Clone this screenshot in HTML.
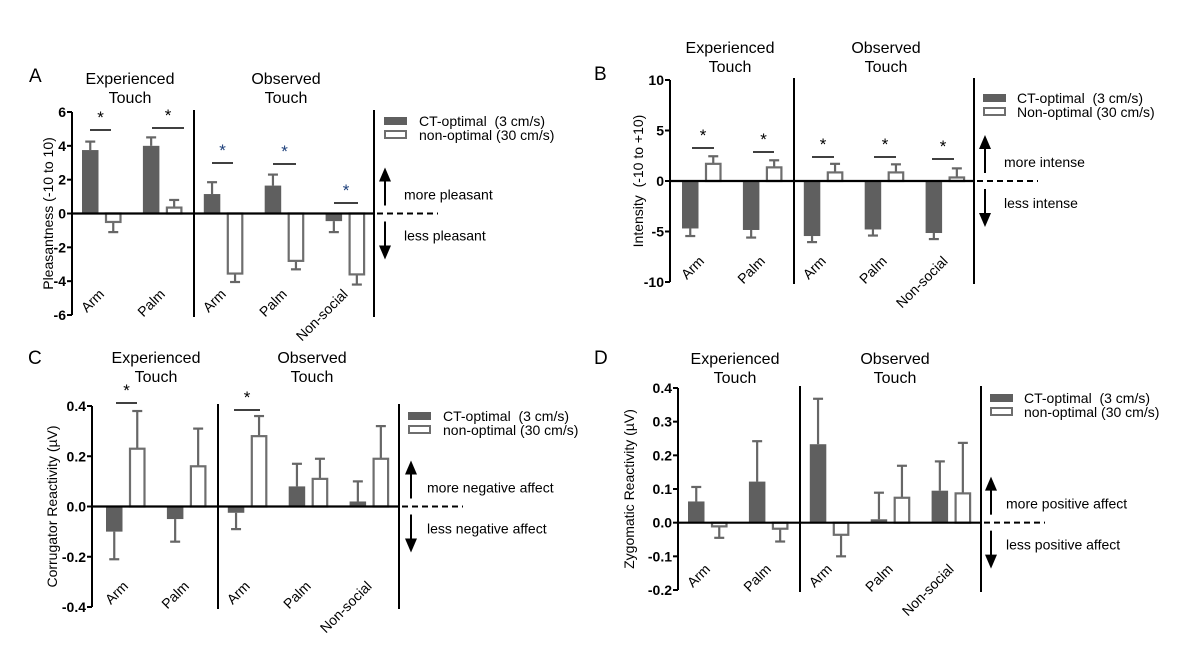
<!DOCTYPE html>
<html><head><meta charset="utf-8"><style>
html,body{margin:0;padding:0;background:#fff;}
svg{display:block;font-family:"Liberation Sans",Arial,sans-serif;}
</style></head><body>
<svg id="fig" width="1200" height="672" viewBox="0 0 1200 672"></svg>
<script>
const categories = ["Arm","Palm","Arm","Palm","Non-social"];
const aFilled = [3.75,4.0,1.15,1.65,-0.45];
const aFilledErr = [0.5,0.5,0.7,0.65,0.65];
const aOpen = [-0.5,0.35,-3.55,-2.8,-3.6];
const aOpenErr = [0.6,0.45,0.5,0.5,0.6];
const aTicks = [6,4,2,0,-2,-4,-6];
const aTickLabels = ["6","4","2","0","-2","-4","-6"];
const bFilled = [-4.7,-4.85,-5.45,-4.8,-5.15];
const bFilledErr = [0.75,0.75,0.6,0.6,0.6];
const bOpen = [1.7,1.35,0.85,0.85,0.35];
const bOpenErr = [0.75,0.7,0.85,0.8,0.9];
const bTicks = [10,5,0,-5,-10];
const bTickLabels = ["10","5","0","-5","-10"];
const cFilled = [-0.1,-0.05,-0.025,0.08,0.02];
const cFilledErr = [0.11,0.09,0.065,0.09,0.08];
const cOpen = [0.23,0.16,0.28,0.11,0.19];
const cOpenErr = [0.15,0.15,0.08,0.08,0.13];
const cTicks = [0.4,0.2,0,-0.2,-0.4];
const cTickLabels = ["0.4","0.2","0.0","-0.2","-0.4"];
const dFilled = [0.063,0.122,0.233,0.01,0.095];
const dFilledErr = [0.043,0.12,0.135,0.079,0.087];
const dOpen = [-0.011,-0.018,-0.036,0.074,0.087];
const dOpenErr = [0.034,0.038,0.064,0.095,0.15];
const dTicks = [0.4,0.3,0.2,0.1,0,-0.1,-0.2];
const dTickLabels = ["0.4","0.3","0.2","0.1","0.0","-0.1","-0.2"];

const NS="http://www.w3.org/2000/svg";
const svg=document.getElementById('fig');
function mk(tag,attrs,parent,text){
  const e=document.createElementNS(NS,tag);
  for(const k in attrs)e.setAttribute(k,attrs[k]);
  if(text!==undefined)e.textContent=text;
  (parent||svg).appendChild(e);return e;
}
const panels=[
 {id:'a',letter:'A',lx:29,ly:82,axisX:72,x0:82,yTop:112,yBot:315,vMax:6,vMin:-6,
  filled:aFilled,fErr:aFilledErr,open:aOpen,oErr:aOpenErr,ticks:aTicks,tl:aTickLabels,
  div:194,right:374,t1:130,t2:286,ty:84,ytitle:'Pleasantness (-10 to 10)',ytx:48,
  leg:{x:384,y:117,tx:419,l1:'CT-optimal\u00a0\u00a0(3 cm/s)',l2:'non-optimal (30 cm/s)'},
  arrow:{x:385,up:'more pleasant',dn:'less pleasant',tx:404},
  sig:[[90,111,130,'#000'],[152,184,128,'#000'],[212,233,163,'#1d3f7a'],[273,296,164,'#1d3f7a'],[334,358,203,'#1d3f7a']]},
 {id:'b',letter:'B',lx:594,ly:80,axisX:670,x0:682,yTop:80,yBot:282,vMax:10,vMin:-10,
  filled:bFilled,fErr:bFilledErr,open:bOpen,oErr:bOpenErr,ticks:bTicks,tl:bTickLabels,
  div:794,right:974,t1:730,t2:886,ty:53,ytitle:'Intensity\u00a0\u00a0(-10 to +10)',ytx:638,
  leg:{x:983,y:94,tx:1017,l1:'CT-optimal\u00a0\u00a0(3 cm/s)',l2:'Non-optimal (30 cm/s)'},
  arrow:{x:985,up:'more intense',dn:'less intense',tx:1004},
  sig:[[692,714,148,'#000'],[753,774,152,'#000'],[812,834,157,'#000'],[874,896,157,'#000'],[932,954,159,'#000']]},
 {id:'c',letter:'C',lx:28,ly:364,axisX:92,x0:106,yTop:406,yBot:607,vMax:0.4,vMin:-0.4,
  filled:cFilled,fErr:cFilledErr,open:cOpen,oErr:cOpenErr,ticks:cTicks,tl:cTickLabels,
  div:218,right:399,t1:156,t2:312,ty:363,ytitle:'Corrugator Reactivity (\u00b5V)',ytx:52,
  leg:{x:408,y:412,tx:443,l1:'CT-optimal\u00a0\u00a0(3 cm/s)',l2:'non-optimal (30 cm/s)'},
  arrow:{x:411,up:'more negative affect',dn:'less negative affect',tx:427},
  sig:[[116,137,403,'#000'],[234,260,410,'#000']]},
 {id:'d',letter:'D',lx:594,ly:364,axisX:678,x0:688,yTop:388,yBot:590,vMax:0.4,vMin:-0.2,
  filled:dFilled,fErr:dFilledErr,open:dOpen,oErr:dOpenErr,ticks:dTicks,tl:dTickLabels,
  div:800,right:981,t1:735,t2:895,ty:364,ytitle:'Zygomatic Reactivity (\u00b5V)',ytx:629,
  leg:{x:990,y:394,tx:1024,l1:'CT-optimal\u00a0\u00a0(3 cm/s)',l2:'non-optimal (30 cm/s)'},
  arrow:{x:991,up:'more positive affect',dn:'less positive affect',tx:1006},
  sig:[]}
];
const PITCH=60.9,BW=16.5,OFF=23;
panels.forEach(p=>{
  const g=mk('g',{});
  
  
  const y=v=>p.yTop+(p.vMax-v)/(p.vMax-p.vMin)*(p.yBot-p.yTop);
  const y0=y(0);
  const L=mk('text',{x:p.lx,y:p.ly,'font-size':19},g,p.letter);
  
  
  [[p.t1,'Experienced'],[p.t2,'Observed']].forEach(([cx,w])=>{
    const t=mk('text',{x:cx,y:p.ty,'font-size':16,'text-anchor':'middle'},g);
    
    
    mk('tspan',{x:cx,dy:0},t,w);mk('tspan',{x:cx,dy:19},t,'Touch');
  });
  const ax=mk('line',{x1:p.axisX,y1:p.yTop,x2:p.axisX,y2:p.yBot,stroke:'#000','stroke-width':2},g);
  
  
  p.ticks.forEach((t,i)=>{
    mk('line',{x1:p.axisX-5,y1:y(t),x2:p.axisX,y2:y(t),stroke:'#000','stroke-width':2},g);
    const tx=mk('text',{x:p.axisX-6,y:y(t)+5,'font-size':14,'font-weight':'bold','text-anchor':'end'},g,p.tl[i]);
    
    
  });
  const yt=mk('text',{x:p.ytx,y:(p.yTop+p.yBot)/2,'font-size':14,'text-anchor':'middle',transform:`rotate(-90 ${p.ytx} ${(p.yTop+p.yBot)/2})`,dy:5},g,p.ytitle);
  
  
  [p.div,p.right].forEach(x=>{
    const l=mk('line',{x1:x,y1:p.yTop-2,x2:x,y2:p.yBot+2,stroke:'#000','stroke-width':2},g);
    
    
  });
  categories.forEach((c,i)=>{
    const xf=p.x0+i*PITCH, xo=xf+OFF;
    [[xf,p.filled[i],p.fErr[i],true],[xo,p.open[i],p.oErr[i],false]].forEach(([x,v,e,fill])=>{
      const ytop=Math.min(y(v),y0),h=Math.abs(y(v)-y0);
      const ee=v>=0?y(v+e):y(v-e);
      const eb=mk('line',{x1:x+BW/2,y1:y(v),x2:x+BW/2,y2:ee,stroke:'#666','stroke-width':2.2},g);
      
      
      mk('line',{x1:x+BW/2-5,y1:ee,x2:x+BW/2+5,y2:ee,stroke:'#666','stroke-width':2.2},g);
      const r=fill?mk('rect',{x:x,y:ytop,width:BW,height:h,fill:'#5f5f5f'},g)
                  :mk('rect',{x:x+1,y:ytop,width:BW-2,height:h,fill:'#fff',stroke:'#6e6e6e','stroke-width':2.2},g);
      
      
    });
    const lx=xf+23,ly=p.yBot-20;
    const ct=mk('text',{x:lx,y:ly,'font-size':14,'text-anchor':'end',transform:`rotate(-45 ${lx} ${ly})`},g,c);
    
    
  });
  const z=mk('line',{x1:p.axisX,y1:y0,x2:p.right,y2:y0,stroke:'#000','stroke-width':2.2},g);
  
  
  const dz=mk('line',{x1:p.right+3,y1:y0,x2:p.right+64,y2:y0,stroke:'#000','stroke-width':2,'stroke-dasharray':'6,4'},g);
  
  
  p.sig.forEach(s=>{
    const sl=mk('line',{x1:s[0],y1:s[2],x2:s[1],y2:s[2],stroke:'#000','stroke-width':1.5},g);
    
    
    const st=mk('text',{x:(s[0]+s[1])/2,y:s[2]-7,'font-size':17,'text-anchor':'middle',fill:s[3]},g,'*');
    
    
  });
  const lg=mk('g',{},g);
  
  
  mk('rect',{x:p.leg.x,y:p.leg.y,width:23,height:8,fill:'#5f5f5f'},lg);
  mk('rect',{x:p.leg.x+1,y:p.leg.y+14,width:21,height:7,fill:'#fff',stroke:'#6e6e6e','stroke-width':2},lg);
  const l1=mk('text',{x:p.leg.tx,y:p.leg.y+9,'font-size':14},lg,p.leg.l1);
  
  
  const l2=mk('text',{x:p.leg.tx,y:p.leg.y+23,'font-size':14},lg,p.leg.l2);
  
  
  const a=p.arrow;
  mk('line',{x1:a.x,y1:y0-8,x2:a.x,y2:y0-36,stroke:'#000','stroke-width':2},g);
  mk('polygon',{points:`${a.x-6},${y0-32} ${a.x+6},${y0-32} ${a.x},${y0-46}`,fill:'#000'},g);
  mk('line',{x1:a.x,y1:y0+8,x2:a.x,y2:y0+36,stroke:'#000','stroke-width':2},g);
  mk('polygon',{points:`${a.x-6},${y0+32} ${a.x+6},${y0+32} ${a.x},${y0+46}`,fill:'#000'},g);
  const up=mk('text',{x:a.tx,y:y0-14,'font-size':14},g,a.up);
  
  
  const dn=mk('text',{x:a.tx,y:y0+27,'font-size':14},g,a.dn);
  
  
});
</script>
</body></html>
